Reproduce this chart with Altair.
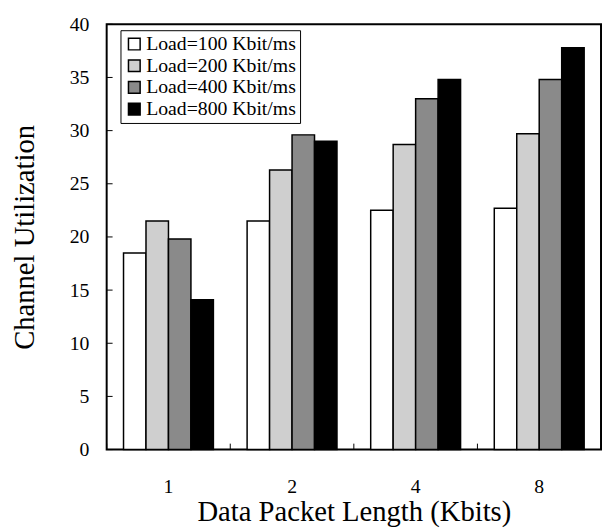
import altair as alt
import pandas as pd

groups = ["1", "2", "4", "8"]
loads = ["Load=100 Kbit/ms", "Load=200 Kbit/ms", "Load=400 Kbit/ms", "Load=800 Kbit/ms"]
values = {
    "Load=100 Kbit/ms": [18.5, 21.5, 22.5, 22.7],
    "Load=200 Kbit/ms": [21.5, 26.3, 28.7, 29.7],
    "Load=400 Kbit/ms": [19.8, 29.6, 33.0, 34.8],
    "Load=800 Kbit/ms": [14.1, 29.0, 34.8, 37.8],
}
fills = ["#ffffff", "#cfcfcf", "#8a8a8a", "#000000"]
y_ticks = [0, 5, 10, 15, 20, 25, 30, 35, 40]

rows = []
for ld in loads:
    for g, v in zip(groups, values[ld]):
        rows.append({"group": g, "load": ld, "value": v})
df = pd.DataFrame(rows)
tick_df = pd.DataFrame({"t": y_ticks})
grp_df = pd.DataFrame({"group": groups})

FONT = "'Liberation Serif', 'Times New Roman', 'DejaVu Serif', serif"
W, H = 501, 431

xscale = alt.Scale(domain=groups, paddingInner=0, paddingOuter=0)
yscale = alt.Scale(domain=[0, 40], nice=False)

bars = alt.Chart(df).mark_bar(stroke="black", strokeWidth=1.5).encode(
    x=alt.X("group:N", scale=xscale, sort=groups,
            axis=alt.Axis(title="Data Packet Length (Kbits)", labelAngle=0, ticks=False,
                          labelPadding=28, titlePadding=1, domain=False)),
    xOffset=alt.XOffset("load:N", sort=loads,
                        scale=alt.Scale(paddingOuter=0.75, paddingInner=0)),
    y=alt.Y("value:Q", scale=yscale,
            axis=alt.Axis(title="Channel Utilization", values=y_ticks, ticks=False,
                          labelPadding=18, titlePadding=30, domain=False, grid=False)),
    fill=alt.Fill("load:N", sort=loads,
                  scale=alt.Scale(domain=loads, range=fills),
                  legend=alt.Legend(title=None, orient="none", legendX=14, legendY=6,
                                    symbolType="square", symbolSize=140,
                                    symbolStrokeColor="black", symbolStrokeWidth=1.5,
                                    labelFont=FONT, labelFontSize=20, labelColor="black",
                                    strokeColor="black", padding=4, rowPadding=2,
                                    fillColor="white", labelOffset=2)),
)

yticks = alt.Chart(tick_df).mark_rule(color="black", strokeWidth=1).encode(
    y=alt.Y("t:Q", scale=yscale),
    x=alt.value(0), x2=alt.value(6),
)

xticks = alt.Chart(grp_df).mark_rule(color="black", strokeWidth=1).encode(
    x=alt.X("group:N", scale=xscale, sort=groups, bandPosition=0),
    y=alt.value(H), y2=alt.value(H - 6),
)

chart = alt.layer(bars, yticks, xticks).properties(
    width=W, height=H,
    autosize=alt.AutoSizeParams(type="none"),
    padding={"left": 100, "top": 13, "right": 1, "bottom": 79},
).configure_view(
    stroke="black", strokeWidth=2
).configure_axis(
    labelFont=FONT, titleFont=FONT, labelFontSize=20, titleFontSize=29,
    labelColor="black", titleColor="black", titleFontWeight="normal",
).configure_legend(
    labelLimit=300, labelFont=FONT, labelFontSize=20, labelColor="black"
)

chart.save("out.html", embed_options={"renderer": "svg", "actions": False})
